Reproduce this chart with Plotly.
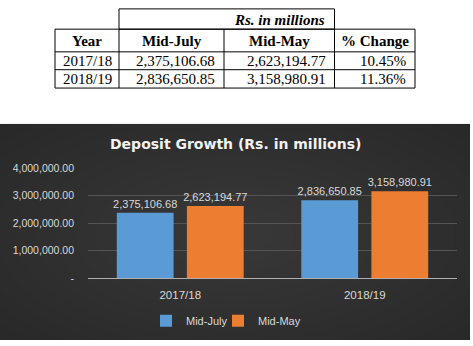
import plotly.graph_objects as go

# ---- data ----
years = ["2017/18", "2018/19"]
mid_july = [2375106.68, 2836650.85]
mid_may = [2623194.77, 3158980.91]
pct_change = ["10.45%", "11.36%"]
table_headers = ["Year", "Mid-July", "Mid-May", "% Change"]
y_tickvals = [0, 1000000, 2000000, 3000000, 4000000]
y_ticktext = ["-", "1,000,000.00", "2,000,000.00", "3,000,000.00", "4,000,000.00"]
unit_label = "Rs. in millions"
chart_title = "Deposit Growth (Rs. in millions)"

W, H = 473, 346
def px_x(v):
    return v / W
def px_y(v):
    return 1 - v / H

fig = go.Figure()

# ---- bars ----
label_font = dict(family="Liberation Sans", size=11, color="#d9d9d9")
fig.add_trace(go.Bar(
    x=years, y=mid_july, name="Mid-July", legend="legend",
    marker=dict(color="#5b9bd5", line=dict(width=0)),
    texttemplate="%{y:,.2f}", textposition="outside", textfont=label_font,
    constraintext="none", cliponaxis=False,
))
fig.add_trace(go.Bar(
    x=years, y=mid_may, name="Mid-May", legend="legend2",
    marker=dict(color="#ed7d31", line=dict(width=0)),
    texttemplate="%{y:,.2f}", textposition="outside", textfont=label_font,
    constraintext="none", cliponaxis=False,
))

# ---- background (dark panel with soft radial lightening) ----
shapes = [
    dict(type="rect", xref="paper", yref="paper", x0=0, x1=px_x(470), y0=0, y1=px_y(122),
         fillcolor="#272727", line=dict(width=0), layer="below"),
]
cx, cy = 235, 236
for k in range(16):
    rx = 340 - k * 20
    ry = 170 - k * 10
    shapes.append(dict(type="circle", xref="paper", yref="paper",
                       x0=px_x(cx - rx), x1=px_x(cx + rx),
                       y0=px_y(cy + ry), y1=px_y(cy - ry),
                       fillcolor="rgba(255,255,255,0.008)", line=dict(width=0), layer="below"))
# white strip right of the dark panel (covers the glow outside)
shapes.append(dict(type="rect", xref="paper", yref="paper", x0=px_x(470), x1=1.05, y0=-0.05, y1=px_y(122),
                   fillcolor="white", line=dict(width=0), layer="below"))
shapes.append(dict(type="rect", xref="paper", yref="paper", x0=-0.05, x1=1.05, y0=px_y(122), y1=1.05,
                   fillcolor="white", line=dict(width=0), layer="below"))

# ---- table layout (built from the data lists) ----
col_edges = [55, 119, 224, 334.5, 415]
row_edges = [24, 47.5, 66, 85]
line = dict(color="black", width=1)
shapes.append(dict(type="rect", xref="paper", yref="paper", x0=px_x(119), x1=px_x(334.5),
                   y0=px_y(24), y1=px_y(3), fillcolor="rgba(0,0,0,0)", line=line))
for ry_ in row_edges:
    shapes.append(dict(type="line", xref="paper", yref="paper", x0=px_x(col_edges[0]), x1=px_x(col_edges[-1]),
                       y0=px_y(ry_), y1=px_y(ry_), line=line))
for cxe in col_edges:
    shapes.append(dict(type="line", xref="paper", yref="paper", x0=px_x(cxe), x1=px_x(cxe),
                       y0=px_y(row_edges[0]), y1=px_y(row_edges[-1]), line=line))

serif = dict(family="Liberation Serif", size=15, color="black")
annotations = [
    dict(text=f"<b><i>{unit_label}</i></b>", xref="paper", yref="paper",
         x=px_x(327), y=px_y(14), xanchor="right", yanchor="middle", showarrow=False, font=serif),
    dict(text=f"<b>{chart_title}</b>", xref="paper", yref="paper",
         x=px_x(235), y=px_y(143), xanchor="center", yanchor="middle", showarrow=False,
         font=dict(family="DejaVu Sans", size=14, color="#f2f2f2")),
]
for i, h in enumerate(table_headers):
    hx = (col_edges[i] + col_edges[i + 1]) / 2
    annotations.append(dict(text=f"<b>{h}</b>", xref="paper", yref="paper", x=px_x(hx),
                            y=px_y((row_edges[0] + row_edges[1]) / 2), xanchor="center", yanchor="middle",
                            showarrow=False, font=serif))
columns = [years, [f"{v:,.2f}" for v in mid_july], [f"{v:,.2f}" for v in mid_may], pct_change]
for r in range(len(years)):
    ty = px_y((row_edges[r + 1] + row_edges[r + 2]) / 2)
    for c, col in enumerate(columns):
        if c == 0:
            tx, anchor = (col_edges[0] + col_edges[1]) / 2, "center"
        else:
            tx, anchor = col_edges[c + 1] - 7, "right"
        annotations.append(dict(text=col[r], xref="paper", yref="paper", x=px_x(tx), y=ty,
                                xanchor=anchor, yanchor="middle", showarrow=False, font=serif))

legend_style = dict(orientation="h", xanchor="left", yanchor="middle",
                    font=dict(family="Liberation Sans", size=11, color="#d9d9d9"),
                    bgcolor="rgba(0,0,0,0)", itemwidth=30)

fig.update_layout(
    width=W, height=H,
    margin=dict(l=0, r=0, t=0, b=0),
    paper_bgcolor="white",
    plot_bgcolor="rgba(0,0,0,0)",
    barmode="group", bargap=0.24, bargroupgap=0.19,
    shapes=shapes, annotations=annotations,
    showlegend=True,
    legend=dict(x=px_x(146), y=px_y(326), **legend_style),
    legend2=dict(x=px_x(218), y=px_y(326), **legend_style),
    xaxis=dict(domain=[px_x(88), px_x(457)], showgrid=False, showline=False, zeroline=False,
               ticks="", ticklabelstandoff=8,
               tickfont=dict(family="Liberation Sans", size=11.5, color="#d9d9d9")),
    yaxis=dict(domain=[px_y(282), px_y(168)], range=[0, 4000000],
               tickvals=y_tickvals, ticktext=y_ticktext, ticks="",
               gridcolor="#555555", gridwidth=1,
               zeroline=True, zerolinecolor="#b0b0b0", zerolinewidth=1,
               showline=False, ticklabelstandoff=13,
               tickfont=dict(family="Liberation Sans", size=10.5, color="#d9d9d9")),
)

fig.write_html("out.html")
